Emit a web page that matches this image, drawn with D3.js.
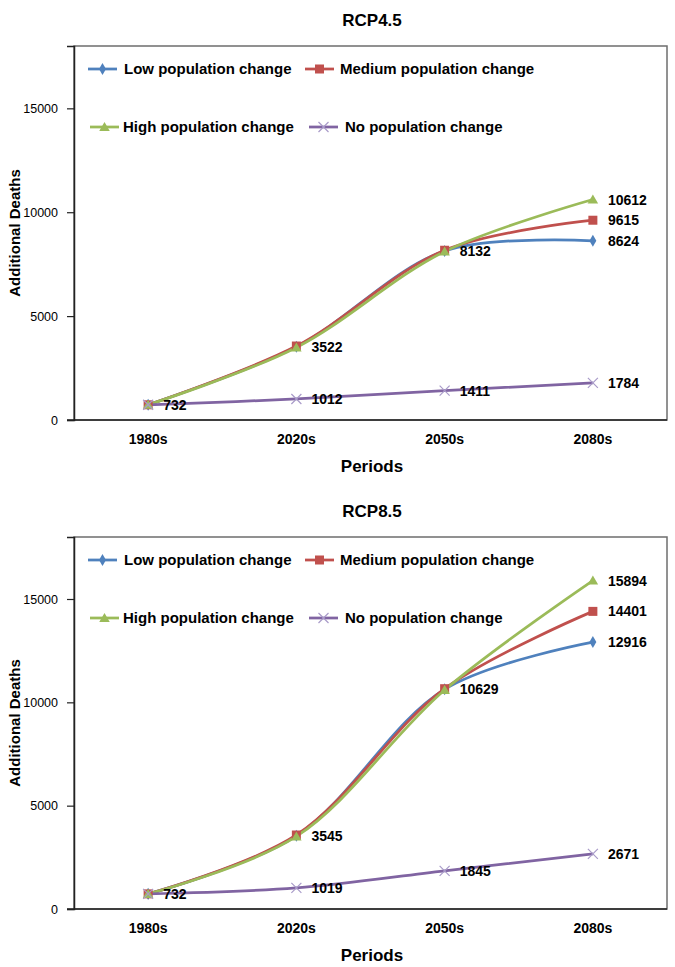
<!DOCTYPE html>
<html>
<head>
<meta charset="utf-8">
<script src="https://cdn.jsdelivr.net/npm/d3@7"></script>
<style>
  html, body { margin: 0; padding: 0; background: #fff; }
  svg { display: block; }
  text { font-family: "Liberation Sans", Arial, sans-serif; }
</style>
</head>
<body>
<svg id="chart" width="675" height="967"></svg>
<script>
// ---------- DATA ----------
const periods = ["1980s", "2020s", "2050s", "2080s"];
const seriesNames = ["Low population change", "Medium population change", "High population change", "No population change"];
const yTicks = [0, 5000, 10000, 15000];

// RCP4.5
const rcp45Low    = [732, 3522, 8132, 8624];
const rcp45Medium = [732, 3560, 8170, 9615];
const rcp45High   = [732, 3490, 8110, 10612];
const rcp45None   = [732, 1012, 1411, 1784];
const rcp45Labels = [["1980s", 732], ["2020s", 3522], ["2050s", 8132], ["2080s", 10612], ["2080s", 9615], ["2080s", 8624], ["2020s", 1012], ["2050s", 1411], ["2080s", 1784]];

// RCP8.5
const rcp85Low    = [732, 3545, 10629, 12916];
const rcp85Medium = [732, 3580, 10660, 14401];
const rcp85High   = [732, 3510, 10600, 15894];
const rcp85None   = [732, 1019, 1845, 2671];
const rcp85Labels = [["1980s", 732], ["2020s", 3545], ["2050s", 10629], ["2080s", 15894], ["2080s", 14401], ["2080s", 12916], ["2020s", 1019], ["2050s", 1845], ["2080s", 2671]];

// ---------- STYLE ----------
const colors = ["#4F81BD", "#C0504D", "#9BBB59", "#8064A2"];
const markerColors = ["#4F81BD", "#C0504D", "#9BBB59", "#A99BC9"];
const markerTypes = ["diamond", "square", "triangle", "x"];

const svg = d3.select("#chart");

function drawMarker(g, type, x, y, color) {
  if (type === "diamond") {
    g.append("path").attr("d", d3.symbol(d3.symbolDiamond, 42)())
      .attr("transform", `translate(${x},${y})`).attr("fill", color);
  } else if (type === "square") {
    g.append("rect").attr("x", x - 4.5).attr("y", y - 4.5).attr("width", 9).attr("height", 9).attr("fill", color);
  } else if (type === "triangle") {
    g.append("path").attr("d", d3.symbol(d3.symbolTriangle, 48)())
      .attr("transform", `translate(${x},${y + 1})`).attr("fill", color);
  } else {
    g.append("path").attr("d", `M${x-5},${y-5}L${x+5},${y+5}M${x-5},${y+5}L${x+5},${y-5}`)
      .attr("stroke", color).attr("stroke-width", 1.2).attr("fill", "none");
  }
}

function drawChart(cfg) {
  const left = 74, right = 667;
  const g = svg.append("g");
  const x = d3.scaleBand().domain(periods).range([left, right]);
  const y = d3.scaleLinear().domain([0, 18000]).range([cfg.bottom, cfg.top]);
  const cx = p => x(p) + x.bandwidth() / 2;

  // title
  g.append("text").attr("x", 372).attr("y", cfg.top - 20)
    .attr("text-anchor", "middle").attr("font-weight", "bold").attr("font-size", 17)
    .attr("fill", "#000").text(cfg.title);

  // frame
  g.append("rect").attr("x", left).attr("y", cfg.top).attr("width", right - left).attr("height", cfg.bottom - cfg.top)
    .attr("fill", "none").attr("stroke", "#6e6e6e").attr("stroke-width", 1.5);

  // y axis
  const yAxis = d3.axisLeft(y).tickValues(yTicks).tickSize(7).tickPadding(9).tickFormat(d3.format("d"));
  const ya = g.append("g").attr("transform", `translate(${left},0)`).call(yAxis);
  ya.select(".domain").attr("stroke", "#222").attr("stroke-width", 1.5);
  ya.selectAll(".tick line").attr("stroke", "#222").attr("stroke-width", 1.2);
  ya.selectAll(".tick text").attr("font-size", 12.5).attr("fill", "#000")
    .attr("font-family", "'Liberation Sans', Arial, sans-serif");

  // x axis
  const xAxis = d3.axisBottom(x).tickSize(0).tickPadding(14);
  const xa = g.append("g").attr("transform", `translate(0,${cfg.bottom})`).call(xAxis);
  xa.select(".domain").attr("stroke", "#222").attr("stroke-width", 1.5).attr("d", `M${left - 7},0H${right}`);
  xa.selectAll(".tick text").attr("font-size", 14).attr("font-weight", "bold").attr("fill", "#000")
    .attr("font-family", "'Liberation Sans', Arial, sans-serif");

  // axis titles
  g.append("text").attr("x", 372).attr("y", cfg.bottom + 52)
    .attr("text-anchor", "middle").attr("font-weight", "bold").attr("font-size", 17).text("Periods");
  g.append("text").attr("transform", `translate(20,${(cfg.top + cfg.bottom) / 2}) rotate(-90)`)
    .attr("text-anchor", "middle").attr("font-weight", "bold").attr("font-size", 15).text("Additional Deaths");

  // lines
  const line = d3.line().x((d, i) => cx(periods[i])).y(d => y(d)).curve(d3.curveCatmullRom.alpha(0.5));
  cfg.series.forEach((s, i) => {
    g.append("path").datum(s).attr("d", line).attr("fill", "none")
      .attr("stroke", colors[i]).attr("stroke-width", 2.75).attr("stroke-linejoin", "round");
  });
  // markers
  cfg.series.forEach((s, i) => {
    s.forEach((v, j) => drawMarker(g, markerTypes[i], cx(periods[j]), y(v), markerColors[i]));
  });

  // data labels
  cfg.labels.forEach(([p, v]) => {
    g.append("text").attr("x", cx(p) + 15).attr("y", y(v)).attr("dy", "0.36em")
      .attr("font-size", 14).attr("font-weight", "bold").attr("fill", "#000").text(d3.format("d")(v));
  });

  // legend
  const legendPos = [
    { lx: 88, tx: 124, dy: 23 },
    { lx: 305, tx: 340, dy: 23 },
    { lx: 90, tx: 123, dy: 81 },
    { lx: 309, tx: 345, dy: 81 }
  ];
  seriesNames.forEach((name, i) => {
    const lp = legendPos[i];
    const ly = cfg.top + lp.dy;
    g.append("line").attr("x1", lp.lx).attr("x2", lp.lx + 29).attr("y1", ly).attr("y2", ly)
      .attr("stroke", colors[i]).attr("stroke-width", 2.75);
    drawMarker(g, markerTypes[i], lp.lx + 14.5, ly, markerColors[i]);
    g.append("text").attr("x", lp.tx).attr("y", ly).attr("dy", "0.35em")
      .attr("font-size", 15).attr("font-weight", "bold").attr("fill", "#000").text(name);
  });
}

drawChart({
  title: "RCP4.5", top: 46, bottom: 420,
  series: [rcp45Low, rcp45Medium, rcp45High, rcp45None],
  labels: rcp45Labels
});
drawChart({
  title: "RCP8.5", top: 537, bottom: 909,
  series: [rcp85Low, rcp85Medium, rcp85High, rcp85None],
  labels: rcp85Labels
});
</script>
</body>
</html>
